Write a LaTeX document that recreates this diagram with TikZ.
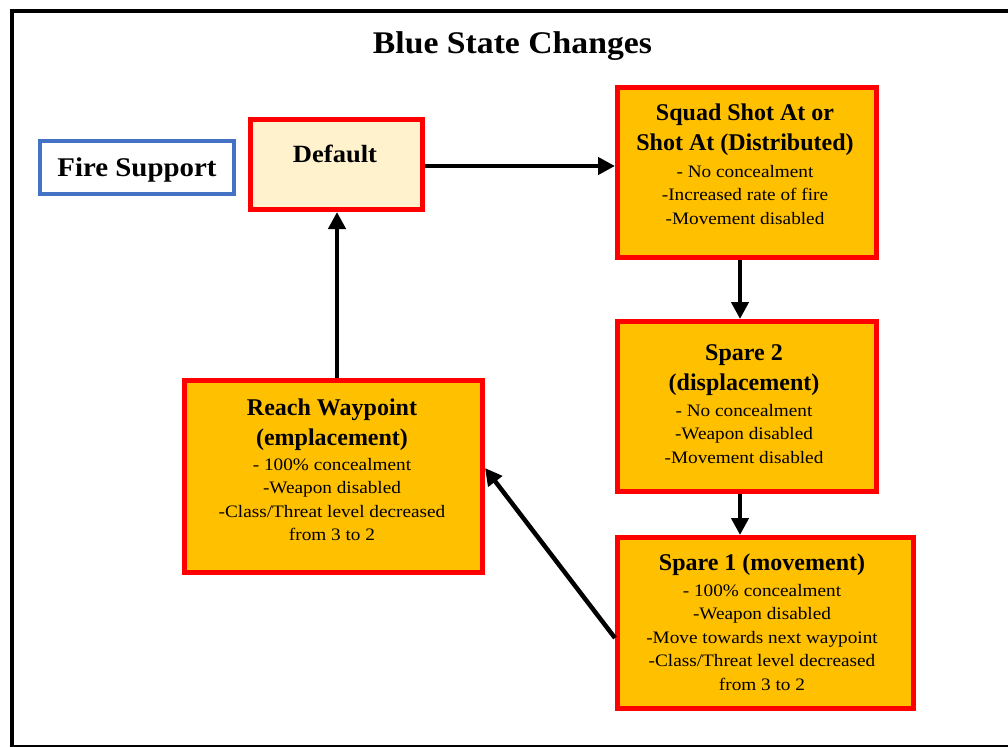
\documentclass[tikz,border=0pt]{standalone}
\usepackage{fontspec}
\setmainfont{Liberation Serif}
\newfontfamily\bodyfont[FakeStretch=1.1]{Liberation Serif}
\newfontfamily\widefont[FakeStretch=1.07]{Liberation Serif}
\usetikzlibrary{arrows.meta}

\definecolor{boxred}{HTML}{FF0000}
\definecolor{stateorange}{HTML}{FFC000}
\definecolor{defaultcream}{HTML}{FFF2CC}
\definecolor{supportblue}{HTML}{4472C4}

\begin{document}
\begin{tikzpicture}[x=1pt,y=-1pt,
  statebox/.style={draw=boxred, line width=5pt, fill=stateorange, inner sep=0pt},
  headtext/.style={font=\bfseries\fontsize{24}{30}\selectfont, align=center, inner sep=0pt},
  bodytext/.style={font=\bodyfont\fontsize{17.5}{23.5}\selectfont, align=center, inner sep=0pt},
  flow/.style={line width=4.5pt, -{Triangle[length=17pt,width=17pt]}}]

\useasboundingbox (0,0) rectangle (1008,746);

% outer frame
\begin{scope}
  \clip (0,0) rectangle (1008,746);
  \draw[line width=4pt] (11.5,11.5) rectangle (1016,747);
\end{scope}

% title
\node[anchor=base, inner sep=0pt, font=\widefont\bfseries\fontsize{31.5}{36}\selectfont]
  (title) at (512.5,53.3) {Blue State Changes};

% legend box
\node[draw=supportblue, line width=4pt, fill=white, minimum width=194pt, minimum height=53pt,
      inner sep=0pt, text depth=0pt, font=\widefont\bfseries\fontsize{27}{32}\selectfont]
  (fire) at (137,167.5) {Fire Support};

% state boxes
\node[draw=boxred, line width=5pt, fill=defaultcream, inner sep=0pt,
      minimum width=172pt, minimum height=90pt] (default) at (336.5,164.5) {};
\node[statebox, minimum width=259pt, minimum height=170pt] (squad)  at (747,172.5) {};
\node[statebox, minimum width=259pt, minimum height=170pt] (spare2) at (747,406.5) {};
\node[statebox, minimum width=296pt, minimum height=171pt] (spare1) at (765.5,623) {};
\node[statebox, minimum width=298pt, minimum height=192pt] (reach)  at (333.5,476.5) {};

% box texts
\node[anchor=base, inner sep=0pt, font=\widefont\bfseries\fontsize{24.8}{30}\selectfont]
  (defaulttxt) at (335,163) {Default};

\node[headtext, anchor=north] (squadhead) at (745,103.5) {Squad Shot At or\\ Shot At (Distributed)};
\node[bodytext, anchor=north] (squadbody) at (745,164.7)
  {- No concealment\\ -Increased rate of fire\\ -Movement disabled};

\node[headtext, anchor=north] (spare2head) at (744,344.5) {Spare 2\\ (displacement)};
\node[bodytext, anchor=north] (spare2body) at (744,404)
  {- No concealment\\ -Weapon disabled\\ -Movement disabled};

\node[headtext, anchor=base] (spare1head) at (762,570.7) {Spare 1 (movement)};
\node[bodytext, anchor=north] (spare1body) at (762,584)
  {- 100\% concealment\\ -Weapon disabled\\ -Move towards next waypoint\\ -Class/Threat level decreased\\ from 3 to 2};

\node[headtext, anchor=north] (reachhead) at (332,398.6) {Reach Waypoint\\ (emplacement)};
\node[bodytext, anchor=north] (reachbody) at (332,458)
  {- 100\% concealment\\ -Weapon disabled\\ -Class/Threat level decreased\\ from 3 to 2};

% transitions
\draw[flow] (default.east |- 0,166) -- (squad.west |- 0,166);
\draw[flow] (squad.south -| 740,0) -- (spare2.north -| 740,0);
\draw[flow] (spare2.south -| 740,0) -- (spare1.north -| 740,0);
\draw[flow] (spare1.west |- 0,638) -- (reach.east |- 0,468);
\draw[flow] (reach.north -| 337,0) -- (default.south -| 337,0);

\end{tikzpicture}
\end{document}
